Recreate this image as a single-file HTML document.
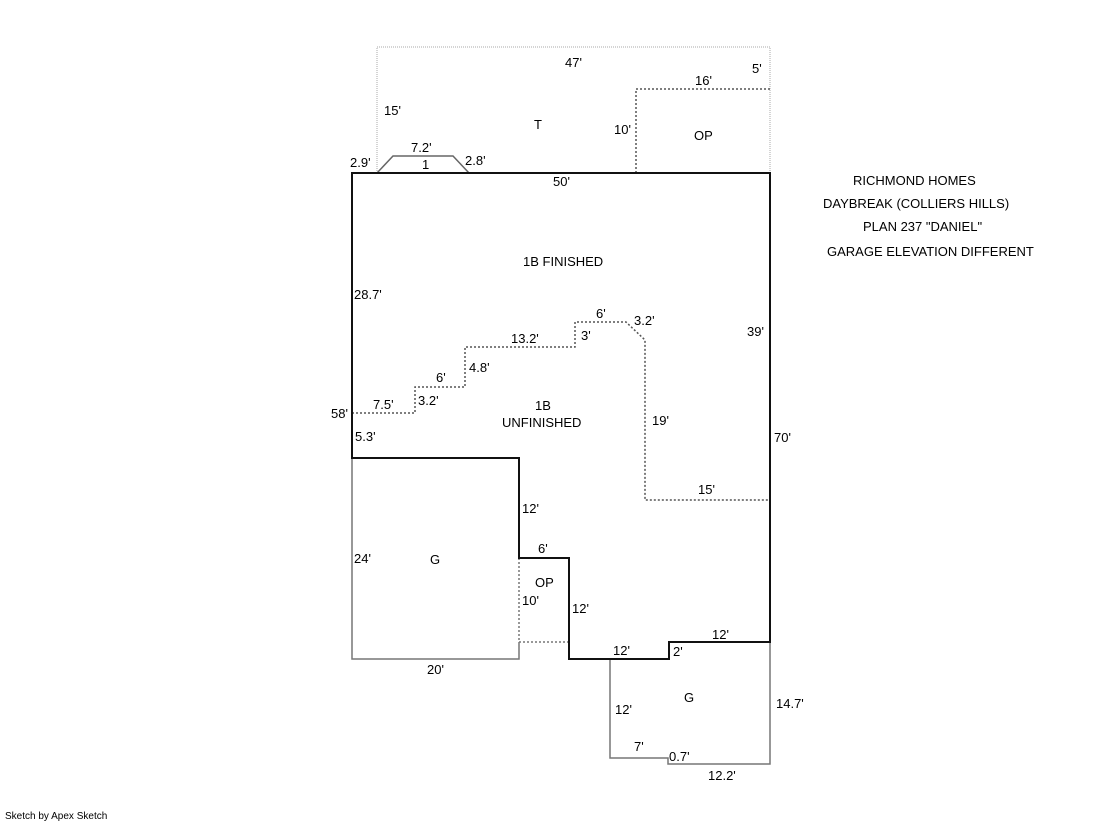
<!DOCTYPE html>
<html><head><style>
body{margin:0;background:#fff}
svg text{font-family:"Liberation Sans",sans-serif;font-size:13px;fill:#000}
</style></head><body>
<svg width="1119" height="821" xmlns="http://www.w3.org/2000/svg">
<g fill="none">
<path d="M377,173 V47 H770 V173" stroke="#aaa" stroke-width="1" stroke-dasharray="1,1"/>
<path d="M636,173 V89 H770" stroke="#555" stroke-width="1.5" stroke-dasharray="2,2"/>
<path d="M377,173 L393,156 H453 L469,173" stroke="#666" stroke-width="1.5"/>
<path d="M352,458 V659 H519 V642" stroke="#777" stroke-width="1.5"/>
<path d="M519,558 V642 H569" stroke="#777" stroke-width="1.5" stroke-dasharray="2,2"/>
<path d="M610,659 V758 H668 V764 H770 V642" stroke="#777" stroke-width="1.5"/>
<path d="M352,413 H415 V387 H465 V347 H575 V322 H626 L645,340 V500 H770" stroke="#555" stroke-width="1.5" stroke-dasharray="2,2"/>
<path d="M352,458 V173 H770 V642 H669 V659 H569 V558 H519 V458 Z" stroke="#111" stroke-width="2"/>
<path d="M352,173 H770" stroke="#111" stroke-width="2" stroke-dasharray="3,1"/>
</g>
<text x="565" y="67">47'</text>
<text x="752" y="73">5'</text>
<text x="695" y="85">16'</text>
<text x="384" y="115">15'</text>
<text x="534" y="129">T</text>
<text x="614" y="134">10'</text>
<text x="694" y="140">OP</text>
<text x="411" y="152">7.2'</text>
<text x="350" y="167">2.9'</text>
<text x="422" y="169">1</text>
<text x="465" y="165">2.8'</text>
<text x="553" y="186">50'</text>
<text x="523" y="266">1B FINISHED</text>
<text x="354" y="299">28.7'</text>
<text x="596" y="318">6'</text>
<text x="634" y="325">3.2'</text>
<text x="747" y="336">39'</text>
<text x="511" y="343">13.2'</text>
<text x="581" y="340">3'</text>
<text x="469" y="372">4.8'</text>
<text x="436" y="382">6'</text>
<text x="373" y="409">7.5'</text>
<text x="418" y="405">3.2'</text>
<text x="535" y="410">1B</text>
<text x="502" y="427">UNFINISHED</text>
<text x="331" y="418">58'</text>
<text x="652" y="425">19'</text>
<text x="355" y="441">5.3'</text>
<text x="774" y="442">70'</text>
<text x="698" y="494">15'</text>
<text x="522" y="513">12'</text>
<text x="538" y="553">6'</text>
<text x="354" y="563">24'</text>
<text x="430" y="564">G</text>
<text x="535" y="587">OP</text>
<text x="522" y="605">10'</text>
<text x="572" y="613">12'</text>
<text x="712" y="639">12'</text>
<text x="613" y="655">12'</text>
<text x="673" y="656">2'</text>
<text x="427" y="674">20'</text>
<text x="684" y="702">G</text>
<text x="776" y="708">14.7'</text>
<text x="615" y="714">12'</text>
<text x="634" y="751">7'</text>
<text x="669" y="761">0.7'</text>
<text x="708" y="780">12.2'</text>
<text x="853" y="185">RICHMOND HOMES</text>
<text x="823" y="208">DAYBREAK (COLLIERS HILLS)</text>
<text x="863" y="231">PLAN 237 "DANIEL"</text>
<text x="827" y="256">GARAGE ELEVATION DIFFERENT</text>
<text x="5" y="819" style="font-size:10px">Sketch by Apex Sketch</text>
</svg>
</body></html>
